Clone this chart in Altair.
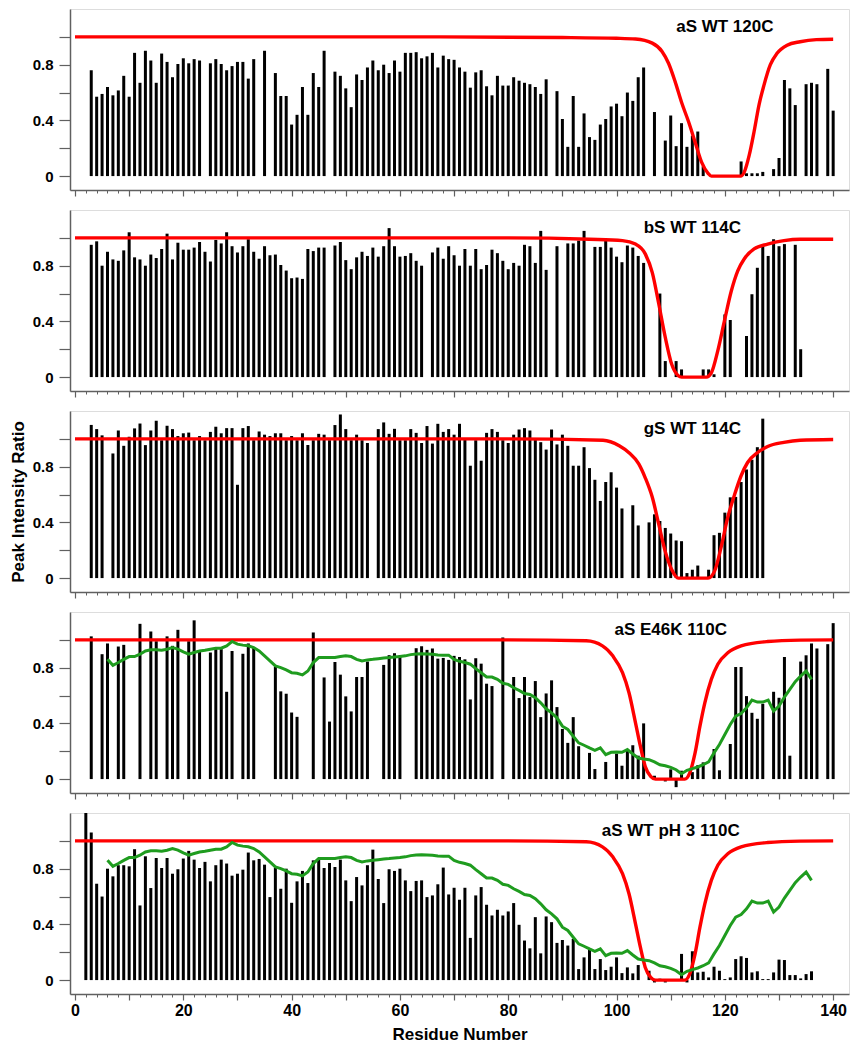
import altair as alt
import pandas as pd

FONT = "Liberation Sans"

# ---------------- Panel data (residue, peak intensity ratio) ----------------
p1_label = "aS WT 120C"
p1_site = 120
p1_res = [3, 4, 5, 6, 7, 8, 9, 10, 11, 12, 13, 14, 15, 16, 17, 18, 19, 20, 21, 22, 23,
          25, 26, 27, 28, 29, 30, 31, 32, 33, 35,
          37, 38, 39, 40, 41, 42, 43, 44, 45, 46,
          48, 49, 50, 51, 52, 53, 54, 55, 56, 57, 58, 59, 60, 61, 62, 63, 64, 65, 66, 67,
          68, 69, 70, 71, 72, 73, 74, 75, 76, 77, 78, 79, 80, 81, 82, 83, 84, 85, 86, 87,
          89, 90, 91, 92, 93, 94, 95, 96, 97, 98, 99, 100, 101, 102, 103, 104, 105,
          107, 109, 110, 111, 112, 113, 114, 115, 116,
          123, 124, 125, 126, 127, 129, 130, 131, 132, 133, 135, 136, 137, 139, 140]
p1_val = [0.76, 0.57, 0.59, 0.64, 0.58, 0.615, 0.72, 0.57, 0.885, 0.67, 0.90, 0.83, 0.67, 0.88, 0.82, 0.71, 0.805, 0.846, 0.81, 0.84, 0.83,
          0.81, 0.84, 0.805, 0.76, 0.79, 0.82, 0.82, 0.70, 0.84, 0.90,
          0.74, 0.575, 0.575, 0.37, 0.44, 0.64, 0.44, 0.74, 0.64, 0.90,
          0.75, 0.72, 0.63, 0.495, 0.73, 0.69, 0.78, 0.83, 0.76, 0.80, 0.74, 0.83, 0.75, 0.885, 0.885, 0.89, 0.846, 0.86, 0.885, 0.78,
          0.865, 0.84, 0.835, 0.78, 0.75, 0.635, 0.745, 0.76, 0.645, 0.58, 0.72, 0.65, 0.65, 0.71, 0.685, 0.67, 0.66, 0.64, 0.59, 0.695,
          0.61, 0.41, 0.21, 0.575, 0.21, 0.45, 0.28, 0.26, 0.37, 0.41, 0.50, 0.52, 0.43, 0.60, 0.54, 0.71, 0.78,
          0.46, 0.255, 0.435, 0.215, 0.38, 0.21, 0.29, 0.32, 0.07,
          0.105, 0.02, 0.02, 0.02, 0.03, 0.05, 0.13, 0.69, 0.63, 0.51, 0.66, 0.67, 0.66, 0.77, 0.47]

p2_label = "bS WT 114C"
p2_site = 114
p2_res = [3, 4, 5, 6, 7, 8, 9, 10, 11, 12, 13, 14, 15, 16, 17, 18, 19, 20, 21, 22, 23, 24,
          25, 26, 27, 28, 29, 30, 31, 32, 33, 34, 35, 36, 37, 38, 39, 40, 41, 42, 43, 44, 45, 46,
          48, 49, 50, 51, 52, 53, 54, 55, 56, 57, 58, 59, 60, 61, 62, 63, 64,
          66, 67, 68, 69, 70, 71, 72, 73, 74, 75, 76, 77, 78, 79, 80, 81, 82, 83, 84, 85, 86, 87,
          89, 91, 92, 93, 94, 96, 97, 98, 99, 100, 101, 102, 103, 104, 105,
          108, 109, 111, 112, 116, 117, 118, 120, 121,
          124, 125, 126, 127, 128, 129, 130, 131, 133, 134]
p2_val = [0.95, 0.975, 0.80, 0.90, 0.845, 0.835, 0.91, 1.04, 0.86, 0.845, 0.80, 0.88, 0.855, 0.92, 1.03, 0.845, 0.965, 0.915, 0.915, 0.93, 0.97, 0.90,
          0.83, 0.985, 0.96, 1.04, 0.94, 0.895, 0.94, 0.99, 0.90, 0.85, 0.94, 0.875, 0.88, 0.805, 0.765, 0.71, 0.715, 0.705, 0.92, 0.905, 0.93, 0.93,
          0.945, 0.97, 0.84, 0.775, 0.86, 0.90, 0.87, 0.93, 0.865, 0.94, 1.07, 0.94, 0.865, 0.87, 0.89, 0.835, 0.80,
          0.895, 0.93, 0.85, 0.94, 0.875, 0.80, 0.92, 0.80, 0.92, 0.775, 0.805, 0.915, 0.89, 0.835, 0.775, 0.82, 0.80, 0.95, 0.94, 0.82, 1.05, 0.77,
          0.94, 0.96, 0.96, 0.98, 1.05, 0.935, 0.935, 0.98, 0.93, 0.865, 0.825, 0.945, 0.93, 0.87, 0.82,
          0.60, 0.115, 0.115, 0.055, 0.055, 0.055, 0.02, 0.45, 0.41,
          0.295, 0.595, 0.785, 0.955, 0.87, 0.99, 0.94, 0.955, 0.95, 0.20]

p3_label = "gS WT 114C"
p3_site = 114
p3_res = [3, 4, 5, 7, 8, 9, 10, 11, 12, 13, 14, 15, 16, 17, 18, 19, 20, 21, 22, 23, 24, 25, 26, 27, 28, 29, 30,
          31, 32, 33, 34, 35, 36, 37, 38, 39, 40, 41, 42, 43, 44, 45, 46, 47, 48, 49, 50, 51, 52, 53, 54,
          56, 57, 58, 59, 60, 61, 62, 63, 64, 65, 66, 67, 68, 69, 70, 71, 72, 73, 74, 75, 76, 77, 78, 79, 80,
          81, 82, 83, 84, 85, 86, 87, 88, 89, 90, 91, 92, 93, 94, 95, 96, 97, 98, 99, 100, 101,
          103, 104, 106, 107, 108, 109, 110, 111, 112, 113, 114, 115, 117, 118, 119, 120, 121, 122, 123, 124, 125, 126, 127]
p3_val = [1.10, 1.07, 1.025, 0.895, 1.06, 0.95, 1.015, 1.075, 1.11, 0.955, 1.06, 1.13, 0.99, 1.094, 1.07, 1.02, 1.04, 1.045, 0.99, 1.02, 0.99, 1.05, 1.087, 1.04, 1.077, 1.077, 0.67,
          1.077, 1.092, 0.99, 1.053, 1.03, 1.02, 1.04, 1.04, 0.99, 1.02, 0.99, 1.04, 0.956, 0.99, 1.036, 1.03, 0.99, 1.099, 1.175, 1.07, 0.99, 1.03, 0.99, 0.97,
          1.07, 1.118, 1.036, 1.072, 0.99, 0.99, 1.07, 1.043, 0.97, 1.092, 0.966, 1.108, 1.05, 1.07, 1.03, 1.108, 1.0, 0.807, 0.99, 0.843, 1.043, 1.07, 1.05, 0.99, 0.97,
          1.03, 1.067, 1.077, 1.06, 1.0, 0.976, 0.923, 1.067, 0.96, 1.03, 0.95, 0.807, 0.807, 0.94, 0.79, 0.706, 0.554, 0.69, 0.76, 0.65, 0.50,
          0.523, 0.378, 0.40, 0.458, 0.41, 0.36, 0.32, 0.27, 0.265, 0.036, 0.06, 0.09, 0.06, 0.308, 0.325, 0.47, 0.58, 0.583, 0.69, 0.78, 0.85, 0.94, 1.145]

p4_label = "aS E46K 110C"
p4_site = 110
p4_res = [3, 5, 6, 8, 9, 12, 14, 15, 17, 18, 19, 21, 22, 23, 25, 26, 27, 28, 29, 31, 32, 33,
          37, 38, 39, 40, 41, 44, 46, 47, 48, 49, 50, 51, 52, 53, 54, 57, 58, 59, 60,
          63, 64, 65, 66, 67, 68, 69, 70, 71, 72, 73, 74, 75, 76, 77, 79, 81, 82, 83, 84, 85, 86, 87, 88, 89, 90,
          91, 92, 93, 95, 96, 98, 100, 101, 102, 103, 104, 105, 107, 109, 110, 111, 112, 114, 115, 116,
          118, 119, 121, 122, 123, 124, 125, 126, 127, 129, 130, 131, 132, 134, 135, 136, 137, 139, 140]
p4_val = [1.025, 0.897, 0.974, 0.952, 0.964, 1.115, 1.06, 0.99, 1.025, 0.957, 1.072, 0.99, 1.14, 0.916, 0.909, 0.933, 0.933, 0.627, 0.92, 0.90, 0.974, 0.945,
          0.808, 0.63, 0.613, 0.478, 0.447, 1.053, 0.73, 0.413, 0.841, 0.75, 0.594, 0.486, 0.733, 0.733, 0.844, 0.82, 0.89, 0.904, 0.89,
          0.94, 0.954, 0.928, 0.938, 0.865, 0.87, 0.856, 0.885, 0.877, 0.86, 0.572, 0.868, 0.829, 0.685, 0.668, 1.017, 0.733, 0.582, 0.733, 0.589, 0.704, 0.445, 0.615, 0.709, 0.517, 0.36,
          0.26, 0.445, 0.236, 0.188, 0.072, 0.123, 0.183, 0.096, 0.207, 0.243, 0.168, 0.40, 0.024, -0.017, 0.07, -0.058, 0.06, 0.05, 0.10, 0.12,
          0.216, 0.063, 0.252, 0.805, 0.805, 0.596, 0.476, 0.433, 0.541, 0.627, 0.584, 0.877, 0.168, 0.844, 0.889, 0.974, 0.938, 0.969, 1.12]

p5_label = "aS WT pH 3 110C"
p5_site = 110
p5_res = list(range(2, 105)) + [106, 107, 108, 109, 112, 113, 114, 115, 116, 117, 118, 119, 120, 121,
                                122, 123, 124, 125, 126, 127, 128, 129, 130, 131, 132, 133, 134, 135, 136]
p5_val = [1.25, 1.06, 0.692, 0.60, 0.80, 0.745, 0.825, 0.825, 0.817, 0.94, 0.536, 0.889, 0.661, 0.877, 0.805, 0.877, 0.764, 0.796, 0.873,
          0.928, 0.865, 0.805, 0.849, 0.709, 0.825, 0.865, 0.837, 0.75, 0.764, 0.793, 0.916, 0.86, 0.87, 0.829, 0.596, 0.808, 0.656, 0.80, 0.555,
          0.709, 0.784, 0.697, 0.86, 0.865, 0.805, 0.841, 0.812, 0.865, 0.716, 0.567, 0.74, 0.68, 0.825, 0.937, 0.726, 0.553, 0.796, 0.784, 0.80,
          0.716, 0.639, 0.712, 0.716, 0.596, 0.608, 0.688, 0.808, 0.615, 0.663, 0.577, 0.663, 0.303, 0.608, 0.668, 0.541, 0.464, 0.505, 0.464, 0.493,
          0.553, 0.397, 0.284, 0.228, 0.452, 0.192, 0.457, 0.416, 0.267, 0.288, 0.248, 0.296, 0.079, 0.163, 0.216, 0.079, 0.151, 0.072, 0.096, 0.163,
          0.05, 0.091, 0.048, 0.108,
          0.067, -0.017, 0.01, -0.017, 0.188, -0.017, 0.207, 0.055, 0.06, 0.019, 0.096, 0.067, 0.007, 0.019,
          0.151, 0.171, 0.159, 0.055, 0.063, 0.007, 0.007, 0.055, 0.147, 0.144, 0.036, 0.036, 0.012, 0.043, 0.063]

# ---------------- Simulated profiles (red) ----------------
red120_x = [0, 60, 90, 100, 103.5, 106.6, 108.4, 109.6, 110.8, 112.0, 113.3, 114.5, 115.7, 116.9, 117.5,
            123.0, 123.6, 124.5, 125.4, 126.3, 127.2, 128.4, 129.6, 131.5, 133.9, 136.9, 140]
red120_y = [1.0, 1.0, 0.995, 0.99, 0.985, 0.955, 0.895, 0.81, 0.68, 0.53, 0.39, 0.245, 0.10, 0.02, 0.0,
            0.0, 0.03, 0.15, 0.32, 0.51, 0.65, 0.80, 0.88, 0.94, 0.965, 0.98, 0.983]

redb114_x = [0, 80, 95, 101.1, 103.5, 105.3, 106.6, 107.8, 109.0, 110.2, 111.4, 112.0, 116.6, 117.5,
             118.7, 119.9, 121.2, 122.4, 123.6, 125.4, 127.9, 130.9, 133.9, 140]
redb114_y = [1.0, 1.0, 0.99, 0.98, 0.955, 0.885, 0.75, 0.525, 0.285, 0.09, 0.01, 0.0, 0.0, 0.03,
             0.19, 0.40, 0.62, 0.765, 0.85, 0.92, 0.955, 0.98, 0.99, 0.99]

redg114_x = [0, 80, 97.5, 100.5, 102.3, 104.1, 105.3, 106.6, 107.8, 109.0, 110.2, 111.4, 116.9, 118.1,
             119.3, 120.5, 121.8, 123.0, 124.2, 126.0, 127.9, 130.9, 133.9, 140]
redg114_y = [1.0, 1.0, 0.99, 0.95, 0.90, 0.82, 0.72, 0.58, 0.385, 0.19, 0.06, 0.0, 0.0, 0.05,
             0.22, 0.43, 0.60, 0.735, 0.83, 0.90, 0.945, 0.975, 0.99, 0.995]

red110_x = [0, 80, 94.4, 97.4, 99.3, 101.1, 102.3, 103.5, 104.4, 105.3, 106.3, 107.2, 112.6, 113.5,
            114.5, 115.4, 116.3, 117.5, 118.7, 120.6, 123.0, 127.9, 133.9, 140]
red110_y = [1.0, 1.0, 0.993, 0.957, 0.885, 0.764, 0.62, 0.404, 0.236, 0.091, 0.02, 0.0, 0.0, 0.043,
            0.188, 0.38, 0.548, 0.716, 0.825, 0.909, 0.957, 0.988, 0.998, 1.0]

# ---------------- Green reference profile (panels 4 and 5) ----------------
green_x = list(range(6, 137))
green_y = [0.86, 0.817, 0.837, 0.86, 0.88, 0.88, 0.897, 0.92, 0.928, 0.928, 0.925, 0.933, 0.945, 0.933, 0.913,
           0.897, 0.909, 0.92, 0.925, 0.933, 0.94, 0.94, 0.957, 0.988, 0.969, 0.962, 0.957, 0.945, 0.92, 0.885,
           0.849, 0.813, 0.80, 0.784, 0.764, 0.76, 0.748, 0.776, 0.837, 0.873, 0.873, 0.873, 0.873, 0.88, 0.885,
           0.88, 0.86, 0.849, 0.856, 0.86, 0.865, 0.87, 0.873, 0.877, 0.88, 0.885, 0.894, 0.899, 0.901, 0.899,
           0.897, 0.892, 0.89, 0.89, 0.86, 0.846, 0.837, 0.825, 0.793, 0.764, 0.733, 0.733, 0.716, 0.688, 0.68,
           0.656, 0.637, 0.615, 0.608, 0.584, 0.548, 0.505, 0.476, 0.44, 0.38, 0.356, 0.308, 0.26, 0.243, 0.224,
           0.207, 0.224, 0.175, 0.192, 0.195, 0.192, 0.212, 0.18, 0.151, 0.144, 0.139, 0.123, 0.103, 0.096, 0.084,
           0.067, 0.038, 0.063, 0.075, 0.087, 0.103, 0.123, 0.188, 0.248, 0.32, 0.392, 0.452, 0.471, 0.512, 0.567,
           0.553, 0.553, 0.567, 0.488, 0.524, 0.589, 0.644, 0.70, 0.74, 0.776, 0.716]

x_major = list(range(0, 141, 10))
x_minor = list(range(0, 141, 2))
y_ticks = [0, 0.2, 0.4, 0.6, 0.8, 1.0]

W, H = 779, 181
XSC = alt.Scale(domain=[0, 142], nice=False, zero=False)
YSC = alt.Scale(domain=[-0.1, 1.2], nice=False, zero=False)
FRAME = "#606060"


def panel(res, val, red_x, red_y, label, site, green=False, bottom=False, ytitle=None):
    bars_df = pd.DataFrame({"res": res, "val": val})
    red_df = pd.DataFrame({"x": red_x, "y": red_y})
    lab_df = pd.DataFrame({"site": [site], "label": [label]})

    x_axis = alt.Axis(values=x_major, tickSize=6, orient="bottom", grid=False,
                      labels=bottom, labelExpr="datum.value % 20 == 0 ? datum.label : ''",
                      labelFont=FONT, labelFontSize=16, labelFontWeight="bold", labelColor="black",
                      labelPadding=2, labelFlush=False,
                      title="Residue Number" if bottom else None,
                      titleFont=FONT, titleFontSize=17, titleFontWeight="bold", titlePadding=8,
                      domainColor=FRAME, domainWidth=1.5, tickColor=FRAME, tickWidth=1.2)
    y_axis = alt.Axis(values=y_ticks, tickSize=11, grid=False, format="~g", orient="left",
                      labelExpr="indexof(['0', '0.4', '0.8'], datum.label) >= 0 ? datum.label : ''",
                      labelFont=FONT, labelFontSize=15, labelFontWeight="bold", labelColor="black",
                      labelPadding=6,
                      title=ytitle, titleFont=FONT, titleFontSize=17, titleFontWeight="bold",
                      titlePadding=5,
                      domainColor=FRAME, domainWidth=1.5, tickColor=FRAME, tickWidth=1.2)
    minor_axis = alt.Axis(values=x_minor, tickSize=3, orient="bottom", grid=False, labels=False,
                          domain=False, title=None, tickColor=FRAME, tickWidth=1)

    bars = alt.Chart(bars_df).mark_bar(size=3, color="black", clip=True).encode(
        x=alt.X("res:Q", scale=XSC, axis=x_axis),
        y=alt.Y("val:Q", scale=YSC, axis=y_axis),
        y2=alt.datum(0),
    )
    red = alt.Chart(red_df).mark_line(color="#ff0000", strokeWidth=3.4, interpolate="monotone",
                                      clip=True).encode(
        x=alt.X("x:Q", scale=XSC, axis=minor_axis),
        y=alt.Y("y:Q", scale=YSC, axis=None),
    )
    layers = [bars, red]
    if green:
        g_df = pd.DataFrame({"x": green_x, "y": green_y})
        layers.append(alt.Chart(g_df).mark_line(color="#1f9c1f", strokeWidth=3).encode(
            x=alt.X("x:Q", scale=XSC, axis=None),
            y=alt.Y("y:Q", scale=YSC, axis=None),
        ))
    layers.append(alt.Chart(lab_df).mark_text(font=FONT, fontSize=17, fontWeight="bold",
                                              color="black", align="center", baseline="middle").encode(
        x=alt.X("site:Q", scale=XSC, axis=None),
        y=alt.value(18),
        text="label:N",
    ))
    return alt.layer(*layers).resolve_axis(x="independent", y="independent").properties(width=W, height=H)


chart = alt.vconcat(
    panel(p1_res, p1_val, red120_x, red120_y, p1_label, p1_site),
    panel(p2_res, p2_val, redb114_x, redb114_y, p2_label, p2_site),
    panel(p3_res, p3_val, redg114_x, redg114_y, p3_label, p3_site, ytitle="Peak Intensity Ratio"),
    panel(p4_res, p4_val, red110_x, red110_y, p4_label, p4_site, green=True),
    panel(p5_res, p5_val, red110_x, red110_y, p5_label, p5_site, green=True, bottom=True),
    spacing=11,
).properties(padding=0).configure_view(stroke=FRAME, strokeWidth=1.5).configure(background="white")

chart.save("out.html", embed_options={"renderer": "svg", "actions": False})
